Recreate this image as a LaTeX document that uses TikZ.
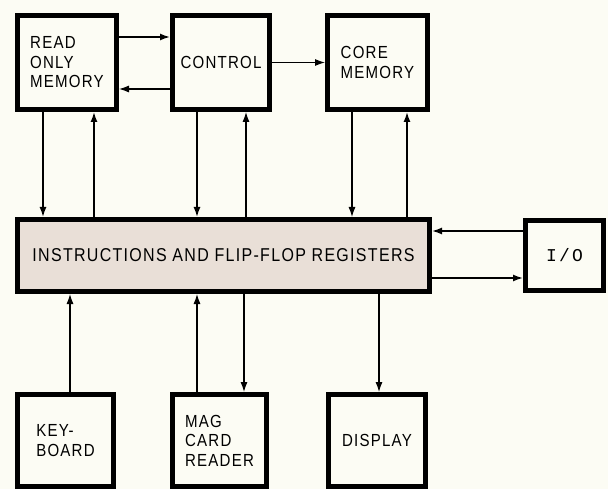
\documentclass[tikz,border=0pt]{standalone}
\usepackage{fontspec}
\setmainfont[FakeStretch=0.86,LetterSpace=7]{Liberation Sans}
\newfontfamily\iofont[LetterSpace=12]{Liberation Mono}
\usetikzlibrary{arrows.meta}
\definecolor{paper}{RGB}{252,252,244}
\definecolor{regfill}{RGB}{233,223,215}
\tikzset{
  blk/.style={draw=black, line width=5pt, fill=paper, inner sep=0pt,
    align=left, font=\fontsize{17.5}{19.5}\selectfont},
  conn/.style={line width=1.6pt, -{Latex[length=10pt,width=7pt]}},
  thinconn/.style={line width=1.1pt, -{Latex[length=10pt,width=7pt]}}
}
\begin{document}
\begin{tikzpicture}[x=1pt,y=-1pt]
\fill[paper] (0,0) rectangle (608,489);
\useasboundingbox (0,0) rectangle (608,489);
% top row
\node[blk, minimum width=99pt, minimum height=94pt] (rom) at (67,62.5) {READ\\ONLY\\MEMORY};
\node[blk, minimum width=97pt, minimum height=94pt] (ctl) at (221,62.5) {CONTROL};
\node[blk, minimum width=100pt, minimum height=94pt] (core) at (377.5,62.5) {CORE\\MEMORY};
% register bar
\node[blk, fill=regfill, minimum width=412pt, minimum height=72pt,
  font=\fontsize{18.6}{20}\selectfont] (reg) at (223.5,255.5) {INSTRUCTIONS AND FLIP-FLOP REGISTERS};
\node[blk, minimum width=78pt, minimum height=70pt, font=\iofont\fontsize{18}{20}\selectfont] (io) at (564.5,255.5) {I/O};
% bottom row
\node[blk, minimum width=96pt, minimum height=92pt] (kb) at (65.5,440.5) {KEY-\\BOARD};
\node[blk, minimum width=94pt, minimum height=92pt] (mag) at (219.5,440.5) {MAG\\CARD\\READER};
\node[blk, minimum width=97pt, minimum height=92pt] (disp) at (377,440.5) {DISPLAY};
% horizontal connectors, top
\draw[conn] (rom.east |- 0,37) -- (ctl.west |- 0,37);
\draw[thinconn] (ctl.west |- 0,89) -- (rom.east |- 0,89);
\draw[thinconn] (ctl.east) -- (core.west);
% vertical connectors, top
\draw[conn] (rom.south -| 43,0) -- (reg.north -| 43,0);
\draw[conn] (reg.north -| 94,0) -- (rom.south -| 94,0);
\draw[conn] (ctl.south -| 197,0) -- (reg.north -| 197,0);
\draw[thinconn] (reg.north -| 246,0) -- (ctl.south -| 246,0);
\draw[thinconn] (core.south -| 352,0) -- (reg.north -| 352,0);
\draw[conn] (reg.north -| 407,0) -- (core.south -| 407,0);
% I/O
\draw[conn] (io.west |- 0,231) -- (reg.east |- 0,231);
\draw[conn] (reg.east |- 0,278) -- (io.west |- 0,278);
% bottom
\draw[thinconn] (kb.north -| 70,0) -- (reg.south -| 70,0);
\draw[thinconn] (mag.north -| 197,0) -- (reg.south -| 197,0);
\draw[thinconn] (reg.south -| 244,0) -- (mag.north -| 244,0);
\draw[thinconn] (reg.south -| 379,0) -- (disp.north -| 379,0);
\end{tikzpicture}
\end{document}
